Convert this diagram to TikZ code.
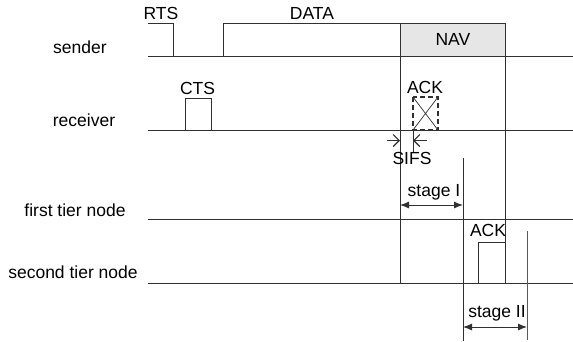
\documentclass[tikz,border=0pt]{standalone}
\usepackage{fontspec}
\setmainfont{Liberation Sans}
\usetikzlibrary{arrows.meta}
\definecolor{navgray}{HTML}{E6E6E6}
\definecolor{ln}{HTML}{303030}
\begin{document}
\begin{tikzpicture}[x=1pt,y=-1pt,
  sig/.style={draw=ln, line width=0.9pt},
  lbl/.style={font=\fontsize{17.5}{20}\selectfont, inner sep=0pt},
  sifsarrow/.style={draw=ln, line width=1pt, -{Straight Barb[length=6pt,width=12pt,line width=1.1pt]}},
  stagearrow/.style={draw=ln, line width=0.9pt, {Latex[length=9pt,width=7pt]}-{Latex[length=9pt,width=7pt]}}]
\useasboundingbox (0,0) rectangle (573,341);
% left labels
\node[lbl] (lsender) at (80,47) {sender};
\node[lbl] (lreceiver) at (84,120) {receiver};
\node[lbl] (lfirst) at (75,210) {first tier node};
\node[lbl] (lsecond) at (73,272) {second tier node};
% sender
\draw[sig] (148,56) -- (573,56);
\draw[sig] (148,23) -- (173,23) -- (173,56);
\draw[sig] (223,56) -- (223,23) -- (400,23) -- (400,56);
\node[lbl] (rts) at (161,13) {RTS};
\node[lbl] (data) at (312,13) {DATA};
\node[draw=ln, line width=0.9pt, fill=navgray, minimum width=105pt, minimum height=33pt, anchor=north west, inner sep=0pt, font=\fontsize{17.5}{20}\selectfont] (nav) at (400,23) {NAV};
% long verticals
\draw[sig] (400,56) -- (400,283);
\draw[sig] (505,56) -- (505,283);
% receiver
\draw[sig] (148,130) -- (573,130);
\draw[sig] (185,130) -- (185,98) -- (211,98) -- (211,130);
\node[lbl] (cts) at (197.5,88) {CTS};
\node[lbl] (ack1) at (425,87.5) {ACK};
\draw[draw=ln, line width=1.6pt, dash pattern=on 5pt off 3pt] (413,97) rectangle (438,130);
\draw[draw=ln, line width=0.7pt] (413,97) -- (438,130) (438,97) -- (413,130);
\draw[sig] (413,130) -- (413,153);
\draw[sifsarrow] (387,140.5) -- (400,140.5);
\draw[sifsarrow] (427,140.5) -- (413,140.5);
\node[lbl] (sifs) at (412,158.5) {SIFS};
% first tier
\draw[sig] (148,219) -- (573,219);
\draw[sig] (463,158) -- (463,341);
\draw[stagearrow] (400,205) -- (463,205);
\node[lbl] (st1) at (434,192) {stage I};
% second tier
\draw[sig] (148,283) -- (573,283);
\draw[sig] (478,283) -- (478,242) -- (505,242);
\node[lbl] (ack2) at (488,230.5) {ACK};
\draw[sig, draw=ln!80] (527,231) -- (527,340);
\draw[stagearrow] (463,327) -- (527,327);
\node[lbl] (st2) at (497,313) {stage II};
\end{tikzpicture}
\end{document}
